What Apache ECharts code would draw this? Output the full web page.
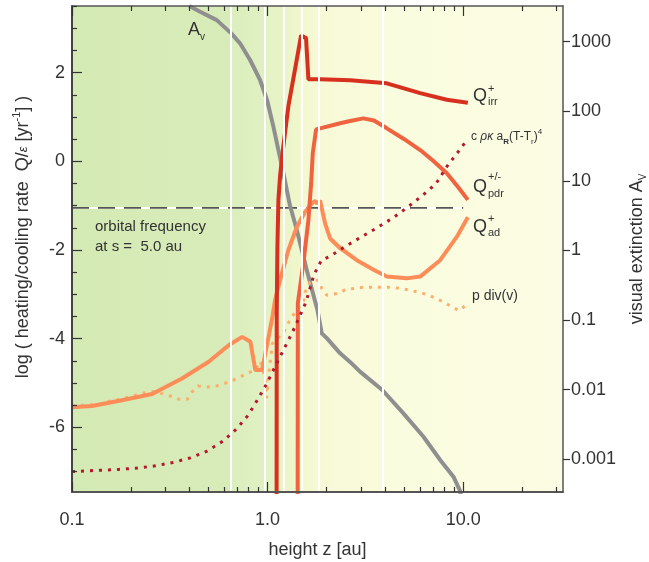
<!DOCTYPE html>
<html><head><meta charset="utf-8">
<script src="https://cdn.jsdelivr.net/npm/echarts@6/dist/echarts.min.js"></script>
<style>html,body{margin:0;padding:0;background:#fff}#c{width:649px;height:562px}</style>
</head><body><div id="c"></div>
<script>
// ---------- axis ranges & ticks ----------
const xRange = [0.1, 32.4];
const yLeftRange = [-7.46, 3.505];
const yRightRange = [0.000339, 3260];
const xMajorTicks = [0.1, 1, 10];
const xMinorTicks = [0.2,0.3,0.4,0.5,0.6,0.7,0.8,0.9,2,3,4,5,6,7,8,9,20,30];
const yMajorTicks = [-6, -4, -2, 0, 2];
const yMinorTicks = [-7,-6.5,-5.5,-5,-4.5,-3.5,-3,-2.5,-1.5,-1,-0.5,0.5,1,1.5,2.5,3,3.5];
const avTicks = [0.001, 0.01, 0.1, 1, 10, 100, 1000];

// ---------- series data (z in au) ----------
const zAv = [0.398,0.452,0.55,0.652,0.723,0.814,0.915,0.994,1.071,1.136,1.205,1.30,1.411,1.586,1.798,1.893,2.008,2.35,2.64,2.97,3.86,4.95,6.27,7.63,8.92,9.63,9.8];
const av  = [3260,2700,2042,1318,948,546,282,145,60.3,27.7,12.9,4.5,1.97,0.525,0.140,0.0646,0.055,0.0333,0.0251,0.0182,0.0099,0.00457,0.00211,0.000977,0.000562,0.000355,0.000282];

const zIrr = [1.112,1.114,1.122,1.136,1.16,1.205,1.278,1.382,1.484,1.573,1.617,1.856,2.65,4.07,6.03,8.25,10.57];
const qIrr = [-8,-3.4,-2.0,-0.87,-0.3,0.35,1.25,2.08,2.84,2.78,1.85,1.85,1.83,1.76,1.54,1.39,1.32];

const zPdr = [1.425,1.428,1.47,1.524,1.617,1.67,1.703,1.77,1.856,2.35,2.64,3.09,3.5,4.07,5.0,6.03,7.0,8.25,9.5,10.57];
const qPdr = [-8,-3.2,-2.8,-2.3,-1.33,-0.5,0.19,0.72,0.745,0.86,0.91,0.97,0.92,0.745,0.5,0.255,0.02,-0.27,-0.6,-0.87];

const zAd = [0.1,0.1265,0.18,0.257,0.365,0.5,0.633,0.741,0.817,0.866,0.937,1.0,1.06,1.092,1.158,1.278,1.411,1.55,1.683,1.75,1.79,1.856,1.968,2.088,2.35,2.86,3.5,4.07,5.15,6.03,7.63,9.29,10.57];
const qAd = [-5.55,-5.52,-5.39,-5.25,-4.9,-4.52,-4.15,-3.96,-4.07,-4.71,-4.71,-4.08,-3.49,-3.13,-2.68,-2.0,-1.48,-1.15,-0.95,-0.89,-0.95,-0.89,-1.4,-1.74,-1.96,-2.23,-2.45,-2.6,-2.64,-2.6,-2.23,-1.7,-1.26];

const zRad = [0.1,0.173,0.215,0.267,0.331,0.403,0.49,0.592,0.692,0.795,0.891,0.986,1.136,1.253,1.382,1.573,1.715,1.8,1.89,2.088,2.52,3.03,3.62,4.4,5.25,6.15,7.25,8.25,9.3,10.45];
const qRad = [-7.0,-6.95,-6.92,-6.87,-6.79,-6.69,-6.54,-6.31,-6.04,-5.73,-5.37,-5.03,-4.48,-4.11,-3.73,-3.17,-2.6,-2.39,-2.23,-2.14,-1.91,-1.7,-1.5,-1.27,-1.02,-0.78,-0.51,-0.12,0.18,0.48];

const zDiv = [0.1,0.115,0.14,0.155,0.173,0.191,0.213,0.236,0.262,0.289,0.321,0.354,0.388,0.411,0.441,0.49,0.545,0.604,0.666,0.734,0.801,0.87,0.919,0.974,0.989,1.0,1.02,1.04,1.057,1.122,1.205,1.263,1.339,1.427,1.524,1.56,1.65,1.82,1.893,2.008,2.26,2.49,3.09,4.32,5.25,6.52,7.93,8.75,9.54,10.36];
const qDiv = [-5.5,-5.5,-5.47,-5.41,-5.37,-5.33,-5.27,-5.22,-5.19,-5.24,-5.3,-5.37,-5.37,-5.2,-5.07,-5.09,-5.07,-5.01,-4.94,-4.85,-4.77,-4.7,-4.51,-4.92,-5.34,-5.1,-4.7,-4.4,-4.11,-4.0,-3.86,-3.68,-3.49,-3.33,-3.17,-2.94,-2.72,-2.68,-2.87,-3.02,-2.98,-2.9,-2.84,-2.84,-2.9,-3.0,-3.17,-3.28,-3.37,-3.24];

const orbitalFrequency = -1.05;
const orbitalZ = [0.1, 10];

// ---------- background bands ----------
const bandEdges = [0.1, 0.652, 0.971, 1.21, 1.50, 1.82, 3.86, 32.4];
const bandFrom  = ['#d4eab4','#dbeebd','#e3f2c4','#ebf5c9','#f3f8cf','#f7f9d6','#fafcde'];
const bandTo    = ['#d8ecb9','#e0f0c2','#e8f3c7','#f1f7cd','#f6f9d4','#f9fbdb','#fbfce3'];
const whiteLines = [0.652, 0.971, 1.21, 1.50, 1.82, 3.86];

const FONT = 'Liberation Sans, Arial, Helvetica, sans-serif';
const TXT = '#333';
const zip = (a, b) => a.map((v, i) => [v, b[i]]);

const chart = echarts.init(document.getElementById('c'), null, {renderer: 'canvas'});

const bandAreas = bandFrom.map((c, i) => [
  {xAxis: bandEdges[i], itemStyle: {color: {type: 'linear', x: 0, y: 0, x2: 1, y2: 0,
    colorStops: [{offset: 0, color: c}, {offset: 1, color: bandTo[i]}]}}},
  {xAxis: bandEdges[i + 1]}
]);

const logX = (extra) => Object.assign({
  type: 'log', logBase: 10, min: xRange[0], max: xRange[1], splitLine: {show: false}, z: 10
}, extra);

const option = {
  animation: false,
  textStyle: {fontFamily: FONT},
  grid: {left: 72, right: 86, top: 6, bottom: 70, containLabel: false, outerBoundsMode: 'none'},
  xAxis: [
    logX({position: 'bottom',
      axisLine: {show: true, onZero: false, lineStyle: {color: '#555', width: 2}},
      axisTick: {show: true, inside: true, length: 10, customValues: xMajorTicks, lineStyle: {color: '#333', width: 1.2}},
      axisLabel: {show: true, customValues: xMajorTicks, formatter: v => (+v).toFixed(1), fontSize: 18, color: TXT, margin: 19, fontFamily: FONT},
      name: 'height z [au]', nameLocation: 'middle', nameGap: 49,
      nameTextStyle: {fontSize: 18, color: TXT, fontFamily: FONT}}),
    logX({position: 'bottom', axisLine: {show: false, onZero: false},
      axisTick: {show: true, inside: true, length: 5, customValues: xMinorTicks, lineStyle: {color: '#333', width: 1.2}},
      axisLabel: {show: false}}),
    logX({position: 'top',
      axisLine: {show: true, onZero: false, lineStyle: {color: '#555', width: 1.5}},
      axisTick: {show: true, inside: true, length: 10, customValues: xMajorTicks, lineStyle: {color: '#333', width: 1.2}},
      axisLabel: {show: false}}),
    logX({position: 'top', axisLine: {show: false, onZero: false},
      axisTick: {show: true, inside: true, length: 5, customValues: xMinorTicks, lineStyle: {color: '#333', width: 1.2}},
      axisLabel: {show: false}})
  ],
  yAxis: [
    {type: 'value', position: 'left', min: yLeftRange[0], max: yLeftRange[1], splitLine: {show: false}, z: 10,
      axisLine: {show: true, onZero: false, lineStyle: {color: '#444', width: 2}},
      axisTick: {show: true, inside: true, length: 10, customValues: yMajorTicks, lineStyle: {color: '#333', width: 1.2}},
      axisLabel: {show: true, customValues: yMajorTicks, fontSize: 18, color: TXT, margin: 7, fontFamily: FONT},
      name: '{t|log ( heating/cooling rate  Q/}{e|ε}{t| [yr}{s|-1}{t|] )}',
      nameLocation: 'middle', nameGap: 37,
      nameTextStyle: {color: TXT, fontFamily: FONT, padding: [0, 0, 0, 24], rich: {
        t: {fontSize: 18, color: TXT, fontFamily: FONT, lineHeight: 24},
        e: {fontSize: 13, color: TXT, fontFamily: FONT, fontStyle: 'italic', lineHeight: 24},
        s: {fontSize: 11, color: TXT, fontFamily: FONT, verticalAlign: 'top', lineHeight: 12}
      }}},
    {type: 'value', position: 'left', min: yLeftRange[0], max: yLeftRange[1], splitLine: {show: false}, z: 10,
      axisLine: {show: false, onZero: false},
      axisTick: {show: true, inside: true, length: 5, customValues: yMinorTicks, lineStyle: {color: '#333', width: 1.2}},
      axisLabel: {show: false}},
    {type: 'log', logBase: 10, position: 'right', min: yRightRange[0], max: yRightRange[1], splitLine: {show: false}, z: 10,
      axisLine: {show: true, onZero: false, lineStyle: {color: '#555', width: 1.5}},
      axisTick: {show: true, inside: false, length: 7, customValues: avTicks, lineStyle: {color: '#333', width: 1.2}},
      axisLabel: {show: true, customValues: avTicks, fontSize: 18, color: TXT, margin: 8, fontFamily: FONT,
        formatter: v => v >= 1 ? String(Math.round(v)) : String(+(+v).toPrecision(1))},
      name: '{t|visual extinction A}{s|V}', nameLocation: 'middle', nameGap: 63,
      nameTextStyle: {color: TXT, fontFamily: FONT, rich: {
        t: {fontSize: 18, color: TXT, fontFamily: FONT, lineHeight: 22},
        s: {fontSize: 10, color: TXT, fontFamily: FONT, verticalAlign: 'bottom', lineHeight: 14}
      }}}
  ],
  series: [
    {type: 'line', name: 'bg', xAxisIndex: 0, yAxisIndex: 0, data: [], z: 1,
      markArea: {silent: true, data: bandAreas},
      markLine: {silent: true, symbol: 'none', label: {show: false},
        lineStyle: {color: '#ffffff', width: 2, type: 'solid'},
        data: whiteLines.map(v => ({xAxis: v}))}},
    {type: 'line', name: 'orbit-white', xAxisIndex: 0, yAxisIndex: 0, showSymbol: false, z: 2,
      data: orbitalZ.map(z => [z, orbitalFrequency]), lineStyle: {color: '#ffffff', width: 2}},
    {type: 'line', name: 'orbital frequency', xAxisIndex: 0, yAxisIndex: 0, showSymbol: false, z: 2,
      data: orbitalZ.map(z => [z, orbitalFrequency]), lineStyle: {color: '#555', width: 1.6, type: [17, 9]}},
    {type: 'line', name: 'Av', xAxisIndex: 0, yAxisIndex: 2, showSymbol: false, z: 3,
      data: zip(zAv, av), lineStyle: {color: '#8f8f8f', width: 4, join: 'round'}},
    {type: 'line', name: 'p div(v)', xAxisIndex: 0, yAxisIndex: 0, showSymbol: false, z: 3,
      data: zip(zDiv, qDiv), lineStyle: {color: '#fdae6b', width: 3, type: [3, 6], cap: 'butt'}},
    {type: 'line', name: 'Q_ad', xAxisIndex: 0, yAxisIndex: 0, showSymbol: false, z: 4,
      data: zip(zAd, qAd), lineStyle: {color: '#fc8d59', width: 4}},
    {type: 'line', name: 'Q_pdr', xAxisIndex: 0, yAxisIndex: 0, showSymbol: false, z: 4,
      data: zip(zPdr, qPdr), lineStyle: {color: '#ef6340', width: 4}},
    {type: 'line', name: 'Q_irr', xAxisIndex: 0, yAxisIndex: 0, showSymbol: false, z: 4,
      data: zip(zIrr, qIrr), lineStyle: {color: '#d7301f', width: 4}},
    {type: 'line', name: 'rad', xAxisIndex: 0, yAxisIndex: 0, showSymbol: false, z: 5,
      data: zip(zRad, qRad), lineStyle: {color: '#b5172e', width: 3, type: [3, 6], cap: 'butt'}}
  ],
  graphic: []
};

function txt(x, y, text, size, extra) {
  return Object.assign({type: 'text', x: x, y: y, z: 100, silent: true,
    style: Object.assign({text: text, fontSize: size, fontFamily: FONT, fill: TXT,
      align: 'left', textAlign: 'left', verticalAlign: 'middle', textVerticalAlign: 'middle'}, extra || {})});
}
option.graphic = [
  txt(188, 30, 'A', 18), txt(200, 37, 'v', 10),
  txt(95, 227, 'orbital frequency', 15), txt(95, 247, 'at s =  5.0 au', 15),
  txt(473, 96, 'Q', 18), txt(488, 89, '+', 11), txt(488, 102, 'irr', 11),
  txt(473, 187, 'Q', 18), txt(488, 177, '+/-', 11), txt(488, 194, 'pdr', 11),
  txt(473, 227, 'Q', 18), txt(488, 219, '+', 11), txt(488, 233, 'ad', 11),
  {type: 'text', x: 471, y: 137, z: 100, silent: true, style: {
    text: '{n|c }{g|ρκ}{n| a}{b|R}{n|(T-T}{u|r}{n|)}{p|4}', fontFamily: FONT, fill: TXT,
    align: 'left', textAlign: 'left', verticalAlign: 'middle', textVerticalAlign: 'middle',
    rich: {
      n: {fontSize: 12, fontFamily: FONT, fill: TXT, lineHeight: 18},
      g: {fontSize: 12, fontFamily: FONT, fill: TXT, fontStyle: 'italic', lineHeight: 18},
      b: {fontSize: 8, fontFamily: FONT, fill: TXT, fontWeight: 'bold', verticalAlign: 'bottom', lineHeight: 10},
      u: {fontSize: 8, fontFamily: FONT, fill: TXT, verticalAlign: 'bottom', lineHeight: 10},
      p: {fontSize: 8, fontFamily: FONT, fill: TXT, verticalAlign: 'top', lineHeight: 10}
    }}},
  txt(472, 296, 'p div(v)', 14)
];

chart.setOption(option);
</script></body></html>
